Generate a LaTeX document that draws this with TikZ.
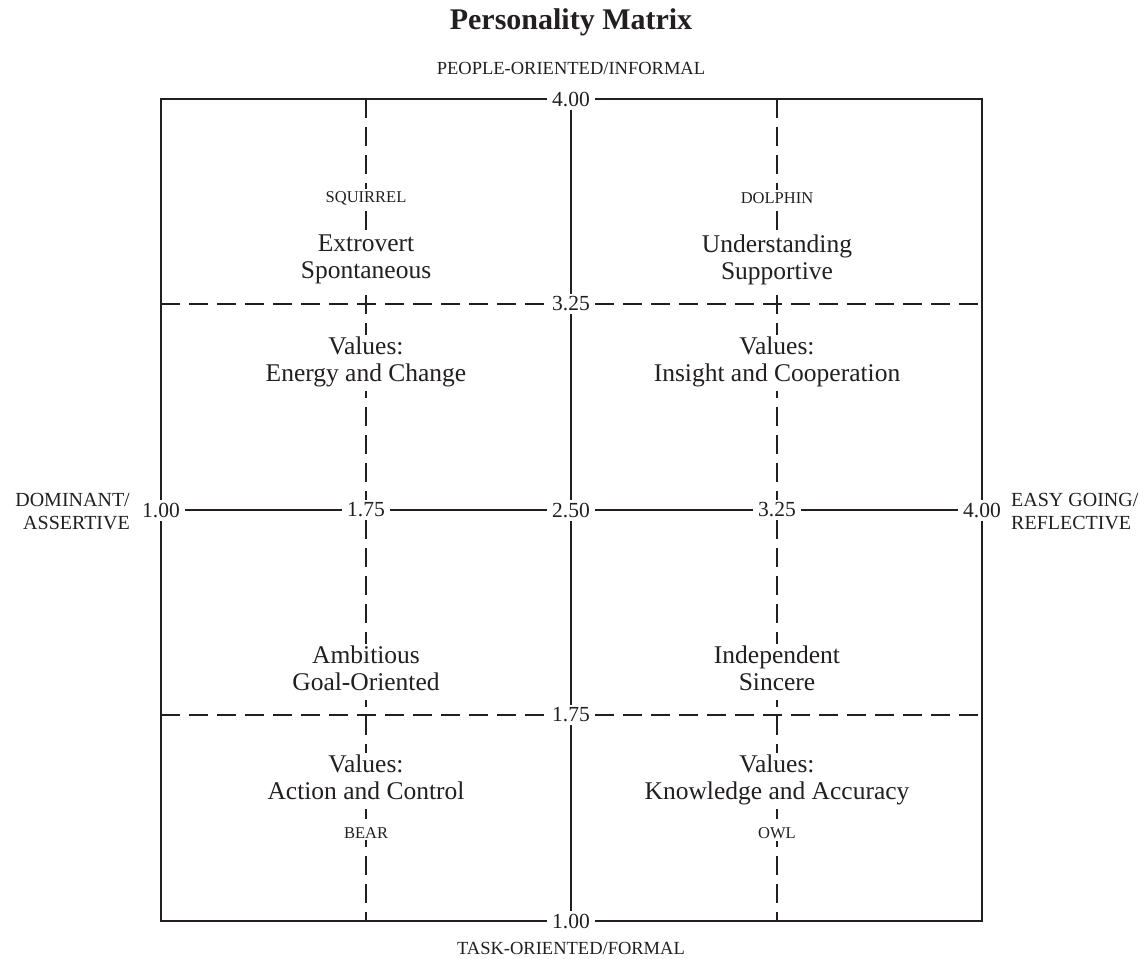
\documentclass[tikz,border=0pt]{standalone}
\usepackage{fontspec}
\setmainfont{Liberation Serif}
\definecolor{ink}{HTML}{231F20}
\tikzset{
  ln/.style={draw=ink, line width=2pt},
  dln/.style={ln, dash pattern=on 19pt off 9pt},
  num/.style={font=\fontsize{21.5}{24}\selectfont, text=ink, inner xsep=5pt, inner ysep=3pt},
  body/.style={font=\fontsize{25.5}{27}\selectfont, text=ink, align=center, fill=white, inner sep=2pt,
    execute at begin node=\strut, execute at end node=\strut},
  animal/.style={font=\fontsize{16.5}{19}\selectfont, text=ink, fill=white, inner sep=2pt},
  axis/.style={font=\fontsize{18.5}{22}\selectfont, text=ink, inner sep=0pt},
  saxis/.style={font=\fontsize{20}{23}\selectfont, text=ink, inner sep=0pt},
  ttl/.style={font=\fontsize{30}{34}\selectfont\bfseries, text=ink, inner sep=0pt},
}
\begin{document}
\begin{tikzpicture}[x=1pt,y=-1pt]
\useasboundingbox[fill=white] (0,0) rectangle (1144,959);
% corners and line ends
\coordinate (tl) at (161,99);
\coordinate (tr) at (982,99);
\coordinate (bl) at (161,921);
\coordinate (br) at (982,921);
\coordinate (dl1) at (161,304);
\coordinate (dr1) at (982,304);
\coordinate (dl2) at (161,715);
\coordinate (dr2) at (982,715);
\coordinate (v1t) at (366,99);
\coordinate (v1b) at (366,921);
\coordinate (v2t) at (777,99);
\coordinate (v2b) at (777,921);
% scale labels
\node[num] (t400) at (571,99) {4.00};
\node[num] (t325) at (571,304) {3.25};
\node[num] (t250) at (571,510) {2.50};
\node[num] (t175) at (571,715) {1.75};
\node[num] (t100) at (571,921) {1.00};
\node[num] (h100) at (161,510) {1.00};
\node[num] (h175) at (366,510) {1.75};
\node[num] (h325) at (777,510) {3.25};
\node[num] (h400) at (982,510) {4.00};
% box
\draw[ln] (t400) -- (tr) -- (h400);
\draw[ln] (h400) -- (br) -- (t100);
\draw[ln] (t100) -- (bl) -- (h100);
\draw[ln] (h100) -- (tl) -- (t400);
% solid axes
\draw[ln] (t400) -- (t325) -- (t250) -- (t175) -- (t100);
\draw[ln] (h100) -- (h175) -- (t250) -- (h325) -- (h400);
% dashed lines
\draw[dln] (dl1) -- (t325) -- (dr1);
\draw[dln] (dl2) -- (t175) -- (dr2);
\draw[dln] (v1t) -- (h175) -- (v1b);
\draw[dln] (v2t) -- (h325) -- (v2b);
% titles and axis names
\node[ttl] (title) at (571,22) {Personality Matrix};
\node[axis] (top) at (571,68) {PEOPLE-ORIENTED/INFORMAL};
\node[axis] (bottom) at (571,948) {TASK-ORIENTED/FORMAL};
\node[saxis, anchor=east, align=right] (left) at (130,512) {DOMINANT/\\ASSERTIVE};
\node[saxis, anchor=west, align=left] (right) at (1011,512) {EASY GOING/\\REFLECTIVE};
% quadrant texts
\node[animal] (squirrel) at (366,198) {SQUIRREL};
\node[animal] (dolphin) at (777,198) {DOLPHIN};
\node[body] (q1a) at (366,261) {Extrovert\\Spontaneous};
\node[body] (q2a) at (777,261) {Understanding\\Supportive};
\node[body] (q1b) at (366,363) {Values:\\Energy and Change};
\node[body] (q2b) at (777,363) {Values:\\Insight and Cooperation};
\node[body] (q3a) at (366,672) {Ambitious\\Goal-Oriented};
\node[body] (q4a) at (777,672) {Independent\\Sincere};
\node[body] (q3b) at (366,781) {Values:\\Action and Control};
\node[body] (q4b) at (777,781) {Values:\\Knowledge and Accuracy};
\node[animal] (bear) at (366,833) {BEAR};
\node[animal] (owl) at (777,833) {OWL};
\end{tikzpicture}
\end{document}
